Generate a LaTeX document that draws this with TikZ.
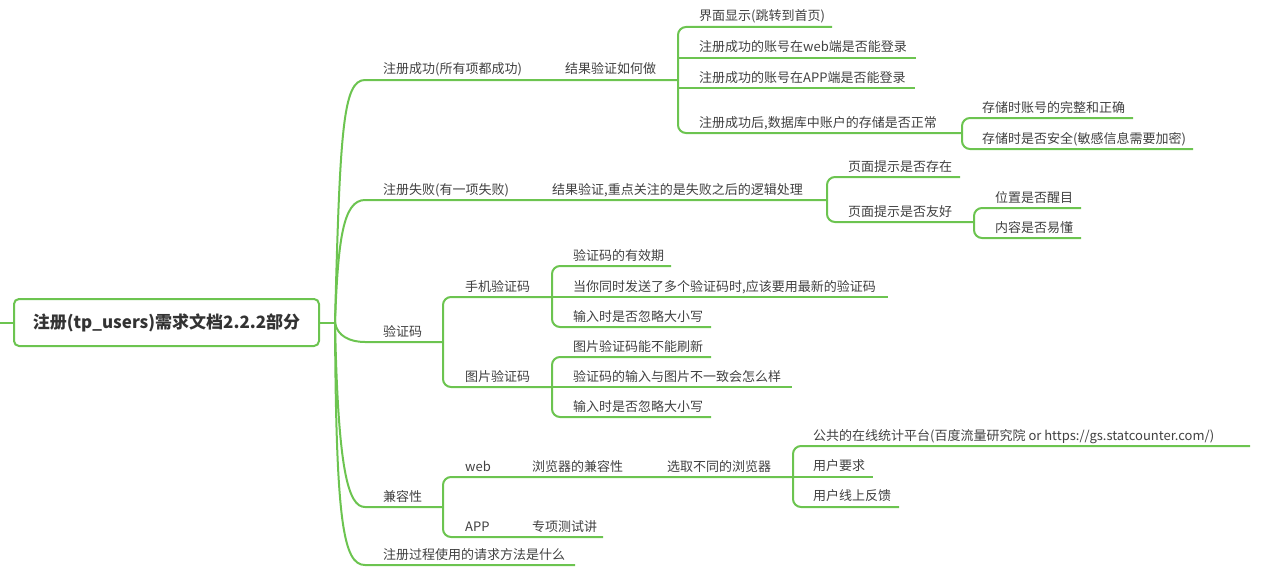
\documentclass[tikz,border=0pt]{standalone}
\usepackage{fontspec}
\setmainfont{Noto Sans CJK SC}
\definecolor{lc}{RGB}{108,196,80}
\definecolor{tc}{RGB}{64,64,64}
\definecolor{rc}{RGB}{51,51,51}
\tikzset{
  lnk/.style={draw=lc, line width=2pt, rounded corners=8pt},
  lbl/.style={anchor=base west, inner sep=0pt, text=tc, font=\fontsize{13}{15}\selectfont},
  rootbox/.style={draw=lc, line width=2pt, rounded corners=5pt, fill=white,
    minimum width=305pt, minimum height=47pt, inner sep=0pt,
    font=\bfseries\fontsize{17}{20}\selectfont, text=rc}
}
\begin{document}
\begin{tikzpicture}[x=1pt,y=-1pt]
\useasboundingbox (0,0) rectangle (1273,578);

% root
\node[rootbox] (root) at (166.5,322.5) {注册(tp\_users)需求文档2.2.2部分};
\coordinate (lstub) at (0,322.5);
\coordinate (o) at (335,322.5);
\draw[lnk] (lstub) -- (root.west);
\draw[lnk] (root.east) -- (o);

% ---------- coordinates ----------
\coordinate (aS) at (373,80);   \coordinate (jA) at (678,80);
\coordinate (eA1) at (832,27);  \coordinate (eA2) at (916,58);
\coordinate (eA3) at (915,88);  \coordinate (jA4) at (962,133);
\coordinate (eA41) at (1133,118); \coordinate (eA42) at (1193,149);

\coordinate (bS) at (373,200);  \coordinate (jB) at (827,200);
\coordinate (eB1) at (960,177); \coordinate (jB2) at (974,222);
\coordinate (eB21) at (1081,208); \coordinate (eB22) at (1081,238);

\coordinate (cS) at (373,342);  \coordinate (jC) at (443,342);
\coordinate (jC1) at (552,297); \coordinate (jC2) at (552,387);
\coordinate (eC11) at (671,266); \coordinate (eC12) at (888,297); \coordinate (eC13) at (711,327);
\coordinate (eC21) at (711,357); \coordinate (eC22) at (792,387); \coordinate (eC23) at (711,417);

\coordinate (dS) at (373,507);  \coordinate (jD) at (443,507);
\coordinate (jD1) at (793,477); \coordinate (eD2) at (603,537);
\coordinate (eD11) at (1250,446); \coordinate (eD12) at (873,477); \coordinate (eD13) at (899,507);

\coordinate (eS) at (373,565);  \coordinate (eE) at (575,565);

% ---------- level 1 connectors ----------
\draw[lnk] (o) .. controls (340,130) and (343,80) .. (aS) -- (jA);
\draw[lnk] (o) .. controls (338,240) and (343,200) .. (bS) -- (jB);
\draw[lnk] (o) .. controls (337,336) and (350,342) .. (cS) -- (jC);
\draw[lnk] (o) .. controls (338,470) and (348,507) .. (dS) -- (jD);
\draw[lnk] (o) .. controls (336,520) and (343,565) .. (eS) -- (eE);

% ---------- branch A ----------
\draw[lnk] (jA) |- (eA1);
\draw[lnk] (jA |- eA2) -- (eA2);
\draw[lnk] (jA |- eA3) -- (eA3);
\draw[lnk] (jA) |- (jA4);
\draw[lnk] (jA4) |- (eA41);
\draw[lnk] (jA4) |- (eA42);

% ---------- branch B ----------
\draw[lnk] (jB) |- (eB1);
\draw[lnk] (jB) |- (jB2);
\draw[lnk] (jB2) |- (eB21);
\draw[lnk] (jB2) |- (eB22);

% ---------- branch C ----------
\draw[lnk] (jC) |- (jC1);
\draw[lnk] (jC) |- (jC2);
\draw[lnk] (jC1) |- (eC11);
\draw[lnk] (jC1) -- (eC12);
\draw[lnk] (jC1) |- (eC13);
\draw[lnk] (jC2) |- (eC21);
\draw[lnk] (jC2) -- (eC22);
\draw[lnk] (jC2) |- (eC23);

% ---------- branch D ----------
\draw[lnk] (jD) |- (jD1);
\draw[lnk] (jD) |- (eD2);
\draw[lnk] (jD1) |- (eD11);
\draw[lnk] (jD1) -- (eD12);
\draw[lnk] (jD1) |- (eD13);

% ---------- labels ----------
\node[lbl] (a) at (383,74) {注册成功(所有项都成功)};
\node[lbl] (a1) at (565,74) {结果验证如何做};
\node[lbl] (a11) at (699,21) {界面显示(跳转到首页)};
\node[lbl] (a12) at (699,52) {注册成功的账号在web端是否能登录};
\node[lbl] (a13) at (699,82) {注册成功的账号在APP端是否能登录};
\node[lbl] (a14) at (699,127) {注册成功后,数据库中账户的存储是否正常};
\node[lbl] (a141) at (982,112) {存储时账号的完整和正确};
\node[lbl] (a142) at (982,143) {存储时是否安全(敏感信息需要加密)};

\node[lbl] (b) at (383,194) {注册失败(有一项失败)};
\node[lbl] (b1) at (552,194) {结果验证,重点关注的是失败之后的逻辑处理};
\node[lbl] (b11) at (848,171) {页面提示是否存在};
\node[lbl] (b12) at (848,216) {页面提示是否友好};
\node[lbl] (b121) at (995,202) {位置是否醒目};
\node[lbl] (b122) at (995,232) {内容是否易懂};

\node[lbl] (c) at (383,336) {验证码};
\node[lbl] (c1) at (465,291) {手机验证码};
\node[lbl] (c2) at (465,381) {图片验证码};
\node[lbl] (c11) at (573,260) {验证码的有效期};
\node[lbl] (c12) at (573,291) {当你同时发送了多个验证码时,应该要用最新的验证码};
\node[lbl] (c13) at (573,321) {输入时是否忽略大小写};
\node[lbl] (c21) at (573,351) {图片验证码能不能刷新};
\node[lbl] (c22) at (573,381) {验证码的输入与图片不一致会怎么样};
\node[lbl] (c23) at (573,411) {输入时是否忽略大小写};

\node[lbl] (d) at (383,501) {兼容性};
\node[lbl] (d1) at (465,471) {web};
\node[lbl] (d1a) at (532,471) {浏览器的兼容性};
\node[lbl] (d1b) at (667,471) {选取不同的浏览器};
\node[lbl] (d11) at (813,440) {公共的在线统计平台(百度流量研究院 or https://gs.statcounter.com/)};
\node[lbl] (d12) at (813,470) {用户要求};
\node[lbl] (d13) at (813,500) {用户线上反馈};
\node[lbl] (d2) at (465,531) {APP};
\node[lbl] (d2a) at (532,531) {专项测试讲};

\node[lbl] (e) at (383,559) {注册过程使用的请求方法是什么};
\end{tikzpicture}
\end{document}
